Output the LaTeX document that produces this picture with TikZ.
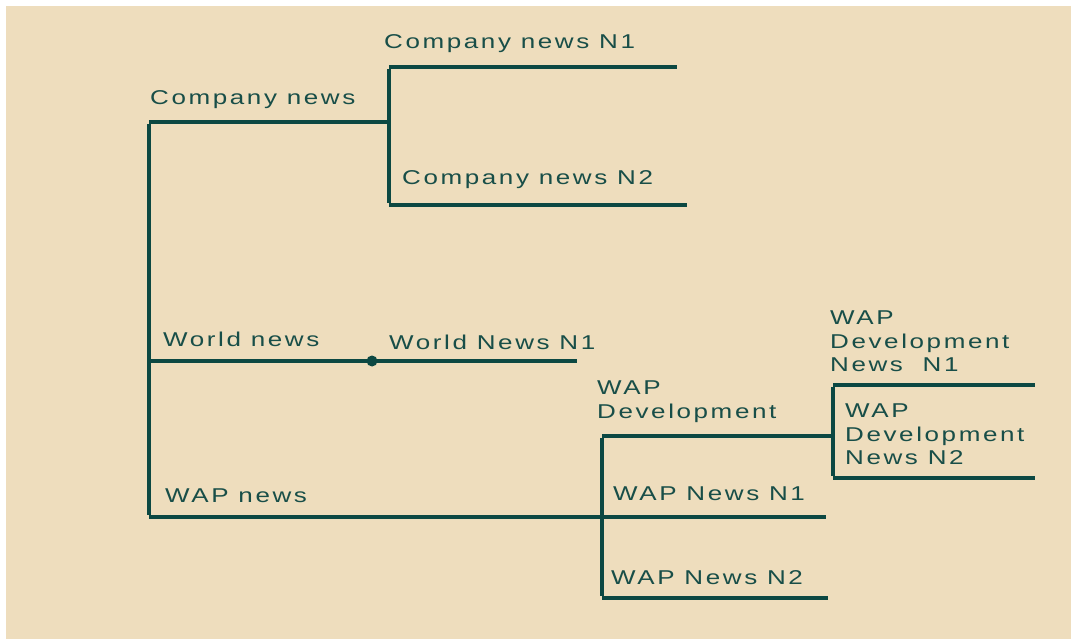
\documentclass[tikz,border=0pt]{standalone}
\usepackage{fontspec}
\setmainfont{Liberation Sans}[FakeStretch=1.3,LetterSpace=13]
\definecolor{bgc}{RGB}{238,221,189}
\definecolor{linec}{RGB}{12,72,66}
\definecolor{textc}{RGB}{24,78,72}
\begin{document}
\begin{tikzpicture}[x=1pt,y=-1pt,
  hline/.style={draw=linec,line width=3.4pt},
  vline/.style={draw=linec,line width=4.8pt},
  lbl/.style={text=textc,inner sep=0pt,anchor=base west,font=\fontsize{20}{23}\selectfont},
  mlbl/.style={text=textc,inner sep=0pt,anchor=north west,align=left,font=\fontsize{20}{23.5}\selectfont}]
\useasboundingbox (0,0) rectangle (1071,639);
\fill[bgc] (6,6) rectangle (1071,639);
% junction coordinates
\coordinate (root) at (149,122);
\coordinate (rootb) at (149,517);
\coordinate (cn) at (389,122);
\coordinate (cnt) at (389,67);
\coordinate (cnb) at (389,205);
\coordinate (cn1) at (677,67);
\coordinate (cn2) at (687,205);
\coordinate (wn) at (149,361);
\coordinate (wn1) at (577,361);
\coordinate (wapj) at (602,517);
\coordinate (wapn1) at (826,517);
\coordinate (wdt) at (602,436);
\coordinate (wdb) at (602,598);
\coordinate (wapn2) at (828,598);
\coordinate (wdj) at (833,436);
\coordinate (wdjt) at (833,385);
\coordinate (wdjb) at (833,478);
\coordinate (wd1) at (1035,385);
\coordinate (wd2) at (1035,478);
% lines
\draw[hline] (root) -- (cn);
\draw[vline] ([yshift=-1.7pt]root) -- ([yshift=1.7pt]rootb);
\draw[vline] ([yshift=-1.7pt]cnt) -- ([yshift=1.7pt]cnb);
\draw[hline] (cnt) -- (cn1);
\draw[hline] (cnb) -- (cn2);
\draw[hline] (wn) -- (wn1);
\fill[linec] (372,361) circle (5.5pt);
\draw[hline] (rootb) -- (wapn1);
\draw[vline] ([yshift=-1.7pt]wdt) -- ([yshift=1.7pt]wdb);
\draw[hline] (wdt) -- (wdj);
\draw[hline] (wdb) -- (wapn2);
\draw[vline] ([yshift=-1.7pt]wdjt) -- ([yshift=1.7pt]wdjb);
\draw[hline] (wdjt) -- (wd1);
\draw[hline] (wdjb) -- (wd2);
% labels
\node[lbl] (tcn1) at (384,49) {Company news N1};
\node[lbl] (tcn) at (150,105) {Company news};
\node[lbl] (tcn2) at (402,185) {Company news N2};
\node[lbl] (twn) at (163,346) {World news};
\node[lbl] (twn1) at (389,349) {World News N1};
\node[mlbl] (twd) at (597,381) {WAP\\Development};
\node[mlbl] (twd1) at (830,311) {WAP\\Development\\News \ N1};
\node[mlbl] (twd2) at (845,404) {WAP\\Development\\News N2};
\node[lbl] (twap) at (165,502) {WAP news};
\node[lbl] (twapn1) at (613,500) {WAP News N1};
\node[lbl] (twapn2) at (611,584) {WAP News N2};
\end{tikzpicture}
\end{document}
